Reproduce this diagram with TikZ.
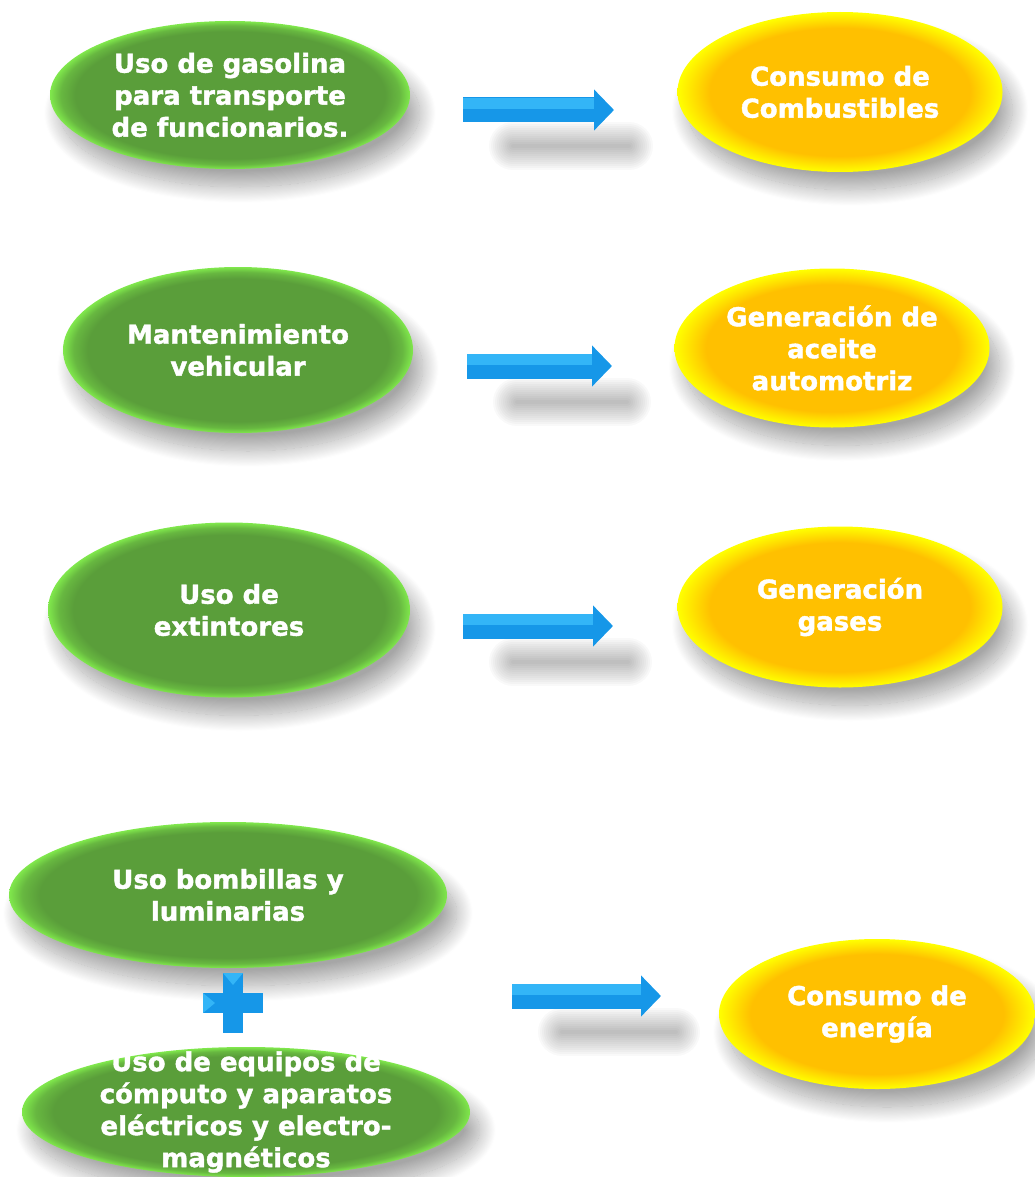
\documentclass[tikz,border=0pt]{standalone}
\usepackage{fontspec}
\setmainfont{DejaVu Sans}[BoldFeatures={FakeBold=1.5}]
\usetikzlibrary{shapes.geometric,arrows.meta,shadows.blur}

\definecolor{greenin}{HTML}{5A9E3A}
\definecolor{greenrim}{HTML}{80E84C}
\definecolor{goldin}{HTML}{FFC000}
\definecolor{goldrim}{HTML}{FFFF00}
\definecolor{arrowblue}{HTML}{1697E8}
\definecolor{arrowlight}{HTML}{33B5F7}

% rim of the path sits at 25bp
\pgfdeclareradialshading{greenball}{\pgfpoint{0bp}{0bp}}{color(0bp)=(greenin); color(21.5bp)=(greenin); color(23.5bp)=(greenin!65!greenrim); color(25bp)=(greenrim); color(50bp)=(greenrim)}
\pgfdeclareradialshading{goldball}{\pgfpoint{0bp}{0bp}}{color(0bp)=(goldin); color(20bp)=(goldin); color(25bp)=(goldrim); color(50bp)=(goldrim)}

\begin{document}
\begin{tikzpicture}[x=1pt, y=-1pt,
    green node/.style={ellipse, inner sep=0pt, outer sep=0pt, shading=greenball,
      blur shadow={shadow xshift=10pt, shadow yshift=-18pt, shadow blur radius=16pt, shadow blur steps=30, shadow opacity=35}},
    gold node/.style={ellipse, inner sep=0pt, outer sep=0pt, shading=goldball,
      blur shadow={shadow xshift=10pt, shadow yshift=-18pt, shadow blur radius=16pt, shadow blur steps=30, shadow opacity=35}},
    txt/.style={text=white, align=center, font=\bfseries\fontsize{26}{32}\selectfont},
    flow/.style={draw=arrowblue, line width=25pt, -{Triangle[width=40pt,length=20pt]}}]

  \useasboundingbox (0,0) rectangle (1034,1177);

  \node[green node, minimum width=360pt, minimum height=148pt,
        label={[txt]center:Uso de gasolina\\para transporte\\de funcionarios.}] (1) at (230,95) {};
  \node[gold node, minimum width=325pt, minimum height=160pt,
        label={[txt]center:Consumo de\\Combustibles}] (2) at (840,92) {};

  \node[green node, minimum width=350pt, minimum height=166pt,
        label={[txt]center:Mantenimiento\\vehicular}] (3) at (238,350) {};
  \node[gold node, minimum width=315pt, minimum height=159pt,
        label={[txt]center:Generación de\\aceite\\automotriz}] (4) at (832,348) {};

  \node[green node, minimum width=362pt, minimum height=175pt,
        label={[txt]center:Uso de\\extintores}] (5) at (229,610) {};
  \node[gold node, minimum width=325pt, minimum height=161pt,
        label={[txt]center:Generación\\gases}] (6) at (840,607) {};

  \node[green node, minimum width=438pt, minimum height=146pt,
        label={[txt]center:Uso bombillas y\\luminarias}] (7) at (228,895) {};
  \node[green node, minimum width=448pt, minimum height=130pt,
        label={[txt]center:Uso de equipos de\\cómputo y aparatos\\eléctricos y electro-\\magnéticos}] (8) at (246,1112) {};
  \node[gold node, minimum width=316pt, minimum height=150pt,
        label={[txt]center:Consumo de\\energía}] (9) at (877,1014) {};

  % plus sign between the two lower ellipses
  \fill[arrowblue] (223,973) rectangle (243,1033);
  \fill[arrowblue] (203,993) rectangle (263,1013);
  \fill[arrowlight] (223,973) -- (243,973) -- (233,985) -- cycle;
  \fill[arrowlight] (203,993) -- (203,1013) -- (215,1003) -- cycle;

  % block arrows
  \coordinate (a1) at (463,110);  \coordinate (b1) at (614,110);
  \coordinate (a2) at (467,366);  \coordinate (b2) at (612,366);
  \coordinate (a3) at (463,626);  \coordinate (b3) at (613,626);
  \coordinate (a4) at (512,996);  \coordinate (b4) at (661,996);

  \foreach \i in {1,...,4} {
    \foreach \w in {4,8,...,48}
      \draw[line width=\w pt, line cap=round, black, opacity=.025]
        ([xshift=50pt,yshift=-36pt]a\i) -- ([xshift=15pt,yshift=-36pt]b\i);
    \draw[flow] (a\i) -- (b\i);
    \draw[arrowlight, line width=11pt] ([yshift=6.5pt]a\i) -- ([xshift=-20pt,yshift=6.5pt]b\i);
  }

\end{tikzpicture}
\end{document}
